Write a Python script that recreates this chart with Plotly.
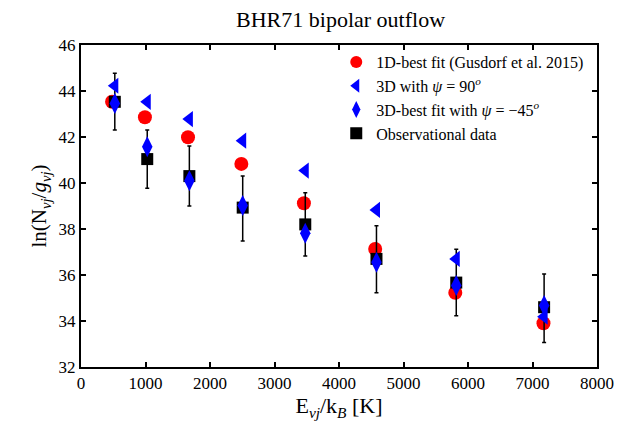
import plotly.graph_objects as go

# Upper-level energies E_vj/k_B [K] of the observed H2 lines
energy_obs = [524, 1027, 1680, 2507, 3477, 4581, 5818, 7180]
energy_1d = [482, 991, 1659, 2486, 3456, 4561, 5803, 7170]

# ln(N_vj / g_vj) for each data set
obs_val = [43.53, 41.04, 40.30, 38.93, 38.20, 36.70, 35.67, 34.60]
obs_err_plus = [1.24, 1.26, 1.31, 1.37, 1.38, 1.44, 1.45, 1.44]
obs_err_minus = [1.23, 1.27, 1.30, 1.45, 1.37, 1.47, 1.44, 1.53]
fit_1d = [43.53, 42.86, 41.99, 40.83, 39.12, 37.13, 35.23, 33.90]
model_3d_90 = [44.23, 43.53, 42.78, 41.84, 40.54, 38.83, 36.70, 34.19]
model_3d_m45 = [43.46, 41.58, 40.10, 39.02, 37.81, 36.55, 35.54, 34.67]

FONT = "Liberation Serif"

fig = go.Figure()

fig.add_trace(go.Scatter(
    x=energy_1d, y=fit_1d, mode="markers",
    name="1D-best fit (Gusdorf et al. 2015)",
    marker=dict(symbol="circle", size=14, color="#ff0000", line=dict(width=0)),
    legendrank=1,
))
fig.add_trace(go.Scatter(
    x=energy_obs, y=obs_val, mode="markers",
    name="Observational data",
    marker=dict(symbol="square", size=12, color="black", line=dict(width=0)),
    error_y=dict(type="data", symmetric=False, array=obs_err_plus,
                 arrayminus=obs_err_minus, color="black", thickness=1.5, width=2),
    legendrank=4,
))
fig.add_trace(go.Scatter(
    x=energy_obs, y=model_3d_90, mode="markers",
    name="3D with <i>ψ</i> = 90<sup><i>o</i></sup>",
    marker=dict(symbol="triangle-left", size=14, color="#0000ff", line=dict(width=0)),
    legendrank=2,
))
fig.add_trace(go.Scatter(
    x=energy_obs, y=model_3d_m45, mode="markers",
    name="3D-best fit with <i>ψ</i> = −45<sup><i>o</i></sup>",
    marker=dict(symbol="diamond-tall", size=15, color="#0000ff", line=dict(width=0)),
    legendrank=3,
))

axis_common = dict(
    showline=True, linecolor="black", linewidth=2, mirror="ticks",
    ticks="inside", ticklen=5, tickwidth=1.5, tickcolor="black",
    showgrid=False, zeroline=False,
    tickfont=dict(family=FONT, size=17, color="black"),
)

fig.update_layout(
    width=626, height=426,
    margin=dict(l=81, r=26, t=45, b=59),
    paper_bgcolor="white", plot_bgcolor="white",
    font=dict(family=FONT, color="black"),
    title=dict(text="BHR71 bipolar outflow", x=0.544, xanchor="center",
               y=0.955, yanchor="middle",
               font=dict(family=FONT, size=22, color="black")),
    xaxis=dict(range=[0, 8000], tickvals=list(range(0, 8001, 1000)),
               title=dict(text="E<sub><i>vj</i></sub>/k<sub><i>B</i></sub> [K]",
                          font=dict(family=FONT, size=22), standoff=4),
               **axis_common),
    yaxis=dict(range=[32, 46], tickvals=list(range(32, 47, 2)),
               title=dict(text="ln(N<sub><i>vj</i></sub>/<i>g</i><sub><i>vj</i></sub>)",
                          font=dict(family=FONT, size=21), standoff=6),
               **axis_common),
    legend=dict(x=0.985, y=1.0, xanchor="right", yanchor="top",
                bgcolor="rgba(255,255,255,0)", borderwidth=0,
                font=dict(family=FONT, size=16, color="black"),
                tracegroupgap=0, itemsizing="constant"),
    showlegend=True,
)

fig.write_html("out.html")
